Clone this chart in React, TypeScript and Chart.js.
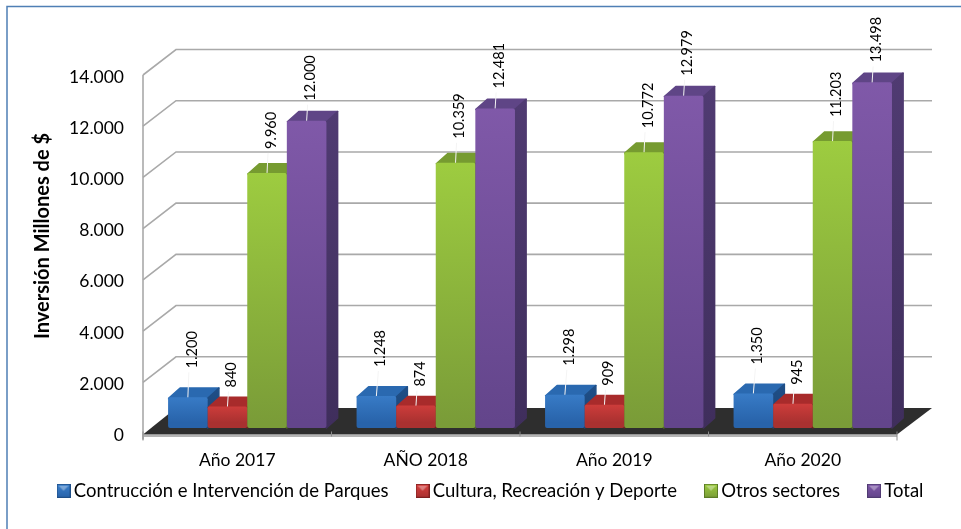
import React, { useEffect, useRef } from "react";
import { Chart, registerables } from "chart.js";

Chart.register(...registerables);

const categories = ["Año 2017", "AÑO 2018", "Año 2019", "Año 2020"];
const parques = [1200, 1248, 1298, 1350];
const cultura = [840, 874, 909, 945];
const otros = [9960, 10359, 10772, 11203];
const total = [12000, 12481, 12979, 13498];
const seriesNames = [
  "Contrucción e Intervención de Parques",
  "Cultura, Recreación y Deporte",
  "Otros sectores",
  "Total",
];
const axisTitle = "Inversión Millones de $";

const FONT = "Lato, 'Open Sans', sans-serif";
const palette = [
  { hi: "#3b80cc", lo: "#2863aa", top: "#2a69b0", side: "#1f4f88", sideLo: "#1b4374" },
  { hi: "#d8403e", lo: "#a93130", top: "#a82b2b", side: "#7e2020", sideLo: "#6c1b1b" },
  { hi: "#9ecd40", lo: "#7a9c38", top: "#769b30", side: "#5c7c26", sideLo: "#4e6a20" },
  { hi: "#8059a9", lo: "#63458b", top: "#5f4586", side: "#503b72", sideLo: "#3f2e5c" },
];
const labelLift = [29, 19, 24, 20];

const DEPTH_X = 33;
const DEPTH_Y = 25.5;
const BAR_SHIFT_X = 10;
const BAR_SHIFT_Y = -5.5;
const BAR_DEPTH_X = 12;
const BAR_DEPTH_Y = 10;

const fmt = (v: number) => String(v).replace(/\B(?=(\d{3})+(?!\d))/g, ".");

function marker(c: (typeof palette)[number]) {
  const cv = document.createElement("canvas");
  cv.width = 14;
  cv.height = 14;
  const g = cv.getContext("2d")!;
  const lg = g.createLinearGradient(0, 0, 0, 14);
  lg.addColorStop(0, c.hi);
  lg.addColorStop(1, c.lo);
  g.fillStyle = c.side;
  g.fillRect(0, 0, 14, 14);
  g.fillStyle = lg;
  g.fillRect(1, 1, 12, 12);
  g.fillStyle = "rgba(255,255,255,0.35)";
  g.beginPath();
  g.moveTo(2, 2);
  g.lineTo(12, 2);
  g.lineTo(7, 7);
  g.closePath();
  g.fill();
  return cv;
}

function drawFaces(chart: any, di: number) {
  const { ctx } = chart;
  const c = palette[di];
  chart.getDatasetMeta(di).data.forEach((el: any) => {
    const { x, y, base, width } = el.getProps(["x", "y", "base", "width"], true);
    const l = x - width / 2;
    const r = x + width / 2;
    ctx.lineJoin = "round";
    ctx.lineWidth = 1.5;
    // top face
    ctx.fillStyle = c.top;
    ctx.strokeStyle = c.top;
    ctx.beginPath();
    ctx.moveTo(l + 0.5, y + 1);
    ctx.lineTo(l + BAR_DEPTH_X, y - BAR_DEPTH_Y + 0.8);
    ctx.lineTo(r + BAR_DEPTH_X - 0.8, y - BAR_DEPTH_Y + 0.8);
    ctx.lineTo(r, y + 1);
    ctx.closePath();
    ctx.fill();
    ctx.stroke();
    // side face
    const sg = ctx.createLinearGradient(0, y - BAR_DEPTH_Y, 0, base);
    sg.addColorStop(0, c.side);
    sg.addColorStop(1, c.sideLo);
    ctx.fillStyle = sg;
    ctx.strokeStyle = sg;
    ctx.beginPath();
    ctx.moveTo(r, y + 1);
    ctx.lineTo(r + BAR_DEPTH_X - 0.8, y - BAR_DEPTH_Y + 0.8);
    ctx.lineTo(r + BAR_DEPTH_X - 0.8, base - BAR_DEPTH_Y);
    ctx.lineTo(r, base);
    ctx.closePath();
    ctx.fill();
    ctx.stroke();
  });
}

const scene = {
  id: "scene",
  afterLayout(chart: any) {
    chart.scales.y.getLabelItems(chart.chartArea).forEach((it: any) => {
      it.textOffset += 2;
    });
  },
  beforeDatasetsDraw(chart: any) {
    const { ctx, chartArea: a, scales } = chart;
    const y = scales.y;
    const y0 = y.getPixelForValue(0);
    ctx.save();
    // frame
    ctx.strokeStyle = "#4f7fb5";
    ctx.lineWidth = 1.5;
    ctx.beginPath();
    ctx.moveTo(7, 529);
    ctx.lineTo(7, 6.5);
    ctx.lineTo(961, 6.5);
    ctx.stroke();
    // floor
    ctx.fillStyle = "#2e2e2e";
    ctx.beginPath();
    ctx.moveTo(a.left, y0 + 1);
    ctx.lineTo(a.left + DEPTH_X, y0 - DEPTH_Y);
    ctx.lineTo(a.right + DEPTH_X + 2, y0 - DEPTH_Y);
    ctx.lineTo(a.right, y0 + 1);
    ctx.closePath();
    ctx.fill();
    // walls
    ctx.strokeStyle = "#a9a9a9";
    ctx.lineWidth = 1.6;
    y.ticks.forEach((t: any) => {
      const p = y.getPixelForValue(t.value);
      if (t.value === 0) return;
      ctx.beginPath();
      ctx.moveTo(a.left, p);
      ctx.lineTo(a.left + DEPTH_X, p - DEPTH_Y);
      ctx.lineTo(a.right + DEPTH_X + 2, p - DEPTH_Y);
      ctx.stroke();
    });
    ctx.beginPath();
    ctx.moveTo(a.left, y.top);
    ctx.lineTo(a.left, y0 + 6);
    ctx.stroke();
    // front floor edge and category ticks
    ctx.strokeStyle = "#b4b4b4";
    ctx.lineWidth = 2;
    ctx.beginPath();
    ctx.moveTo(a.left, y0 + 2.5);
    ctx.lineTo(a.right, y0 + 2.5);
    ctx.stroke();
    ctx.lineWidth = 1;
    ctx.strokeStyle = "#8a8a8a";
    ctx.beginPath();
    for (let i = 0; i <= categories.length; i++) {
      const px = a.left + (i * (a.right - a.left)) / categories.length;
      const last = i === 0 || i === categories.length;
      ctx.moveTo(px, y0 - 2);
      ctx.lineTo(px, y0 + (last ? 7 : 3));
    }
    ctx.stroke();
    // axis title
    ctx.fillStyle = "#000";
    ctx.font = `bold 20px ${FONT}`;
    ctx.textAlign = "center";
    ctx.textBaseline = "middle";
    ctx.translate(43, 236);
    ctx.rotate(-Math.PI / 2);
    ctx.fillText(axisTitle, 0, 0);
    ctx.restore();
  },
  beforeDatasetDraw() {
    // bars are painted left to right in afterDatasetsDraw so the 3D faces overlap correctly
    return false;
  },
  afterDatasetsDraw(chart: any) {
    const { ctx, data } = chart;
    ctx.save();
    ctx.translate(BAR_SHIFT_X, BAR_SHIFT_Y);
    data.datasets.forEach((_: any, di: number) => {
      drawFaces(chart, di);
      chart.getDatasetMeta(di).controller.draw();
    });
    data.datasets.forEach((ds: any, di: number) => {
      const meta = chart.getDatasetMeta(di);
      meta.data.forEach((el: any, i: number) => {
        const { x, y } = el.getProps(["x", "y"], true);
        const end = y - labelLift[di];
        ctx.strokeStyle = "#f4f4f4";
        ctx.lineWidth = 1;
        ctx.beginPath();
        ctx.moveTo(x, y);
        ctx.lineTo(x + (di === 0 && i > 0 ? 2 : 1), end + 4);
        ctx.stroke();
        ctx.save();
        ctx.translate(x + 4, end);
        ctx.rotate(-Math.PI / 2);
        ctx.fillStyle = "#000";
        ctx.font = `14.5px ${FONT}`;
        ctx.textAlign = "left";
        ctx.textBaseline = "middle";
        ctx.fillText(fmt(ds.data[i]), 0, 0);
        ctx.restore();
      });
    });
    ctx.restore();
  },
};

export default function App() {
  const ref = useRef<HTMLCanvasElement>(null);
  useEffect(() => {
    const chart = new Chart(ref.current!, {
      type: "bar",
      plugins: [scene],
      data: {
        labels: categories,
        datasets: [parques, cultura, otros, total].map((d, i) => ({
          label: seriesNames[i],
          data: d,
          clip: false,
          borderRadius: 2,
          borderSkipped: false,
          categoryPercentage: 0.84,
          barPercentage: 1,
          backgroundColor: (c: any) => {
            const col = palette[i];
            const sc = c.chart.scales.y;
            if (!sc || c.raw === undefined) return col.hi;
            const g = c.chart.ctx.createLinearGradient(0, sc.getPixelForValue(c.raw) + BAR_SHIFT_Y, 0, sc.getPixelForValue(0) + BAR_SHIFT_Y);
            g.addColorStop(0, col.hi);
            g.addColorStop(1, col.lo);
            return g;
          },
        })),
      },
      options: {
        animation: false,
        responsive: false,
        layout: { padding: { top: 75, left: 25, right: 0, bottom: 19 } },
        plugins: {
          tooltip: { enabled: false },
          legend: {
            position: "bottom",
            labels: {
              usePointStyle: true,
              boxWidth: 2,
              boxHeight: 2,
              padding: 33,
              color: "#000",
              font: { family: FONT, size: 18.5 },
              generateLabels: (chart: any) =>
                chart.data.datasets.map((ds: any, i: number) => ({
                  text: ds.label,
                  pointStyle: marker(palette[i]),
                  datasetIndex: i,
                  fontColor: "#000",
                  lineWidth: 0,
                  hidden: false,
                })),
            },
          },
        },
        scales: {
          x: {
            grid: { display: false, drawTicks: false },
            border: { display: false },
            ticks: { padding: 16, color: "#000", font: { family: FONT, size: 17.5 }, maxRotation: 0 },
            afterFit: (s: any) => {
              s.height = 15;
              // the labels hang below this shortened box, over the legend's blank upper padding
              s._computeLabelArea = () => undefined;
            },
          },
          y: {
            min: 0,
            max: 14000,
            grid: { display: false, drawTicks: false },
            border: { display: false },
            ticks: {
              stepSize: 2000,
              padding: 19,
              color: "#000",
              font: { family: FONT, size: 17.5 },
              callback: (v: any) => fmt(v),
            },
            afterFit: (s: any) => {
              s.width = 118;
            },
          },
          spacer: {
            type: "linear",
            position: "right",
            display: true,
            grid: { display: false, drawTicks: false },
            border: { display: false },
            ticks: { display: false },
            afterFit: (s: any) => {
              s.width = 64;
            },
          },
        },
      },
    } as any);
    return () => chart.destroy();
  }, []);
  return (
    <div style={{ position: "fixed", left: 0, top: 0, width: 961, height: 529, background: "#fff" }}>
      <canvas ref={ref} width={961} height={529} style={{ display: "block" }} />
    </div>
  );
}
